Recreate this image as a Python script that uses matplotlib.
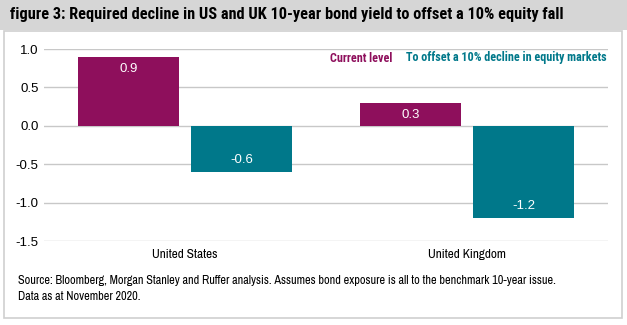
import numpy as np
import matplotlib.pyplot as plt
from matplotlib.patches import Rectangle

countries = ["United States", "United Kingdom"]
current_level = [0.9, 0.3]
offset_decline = [-0.6, -1.2]
yticks = [1.0, 0.5, 0.0, -0.5, -1.0, -1.5]

purple = "#8E0F5C"
teal = "#00788A"
narrow = ["Archivo Narrow", "Liberation Sans", "DejaVu Sans"]
narrow_bold = ["Roboto Condensed", "Liberation Sans", "DejaVu Sans"]
plain = ["Liberation Sans", "DejaVu Sans"]

fig = plt.figure(figsize=(6.27, 3.25), dpi=100)

# header band and white box
fig.patches.append(Rectangle((0, 1 - 30 / 325), 1, 30 / 325, transform=fig.transFigure,
                             facecolor="#D6D6D6", edgecolor="none", zorder=-10))
fig.patches.append(Rectangle((4 / 627, 1 - 318 / 325), 618 / 627, 287 / 325,
                             transform=fig.transFigure, facecolor="white",
                             edgecolor="#CFCFCF", lw=1.2, zorder=-10))
fig.text(10 / 627, 1 - 15 / 325,
         "figure 3: Required decline in US and UK 10-year bond yield to offset a 10% equity fall",
         family=narrow_bold, fontweight="bold", fontsize=11.7, va="center", ha="left")

ax = fig.add_axes([44 / 627, 1 - 241 / 325, 564 / 627, 192 / 325])
x = np.arange(len(countries))
w = 0.36
b1 = ax.bar(x - 0.2, current_level, w, color=purple, zorder=2)
b2 = ax.bar(x + 0.2, offset_decline, w, color=teal, zorder=2)

for bars, vals in ((b1, current_level), (b2, offset_decline)):
    for rect, v in zip(bars, vals):
        off = -12 if v > 0 else 12
        ax.annotate(f"{v:.1f}", (rect.get_x() + rect.get_width() / 2, v),
                    xytext=(0, off), textcoords="offset pixels",
                    ha="center", va="center", color="white", fontsize=9.5,
                    family=plain)

ax.set_xlim(-0.5, 1.5)
ax.set_ylim(-1.5, 1.0)
ax.set_yticks(yticks)
ax.set_yticklabels([f"{t:.1f}" for t in yticks], family=plain, fontsize=9.5)
ax.set_xticks(x)
ax.set_xticklabels(countries, family=narrow, fontsize=9.5)
ax.tick_params(axis="both", length=0)
ax.tick_params(axis="y", pad=4)
ax.tick_params(axis="x", pad=6)
ax.grid(axis="y", color="#C8C8C8", lw=1, zorder=0)
for s in ax.spines.values():
    s.set_visible(False)
ax.patch.set_alpha(0)

# legend as coloured text
fig.text(607 / 627, 1 - 58 / 325, "To offset a 10% decline in equity markets", color=teal,
         family=narrow_bold, fontweight="bold", fontsize=8.7, ha="right", va="center")
fig.text(392 / 627, 1 - 58 / 325, "Current level", color=purple,
         family=narrow_bold, fontweight="bold", fontsize=8.7, ha="right", va="center")

fig.text(18 / 627, 1 - 281 / 325,
         "Source: Bloomberg, Morgan Stanley and Ruffer analysis. Assumes bond exposure is all to the benchmark 10-year issue.",
         family=narrow, fontsize=8.8, va="center")
fig.text(18 / 627, 1 - 297 / 325, "Data as at November 2020.",
         family=narrow, fontsize=8.8, va="center")

fig.savefig("out.png", dpi=100)
